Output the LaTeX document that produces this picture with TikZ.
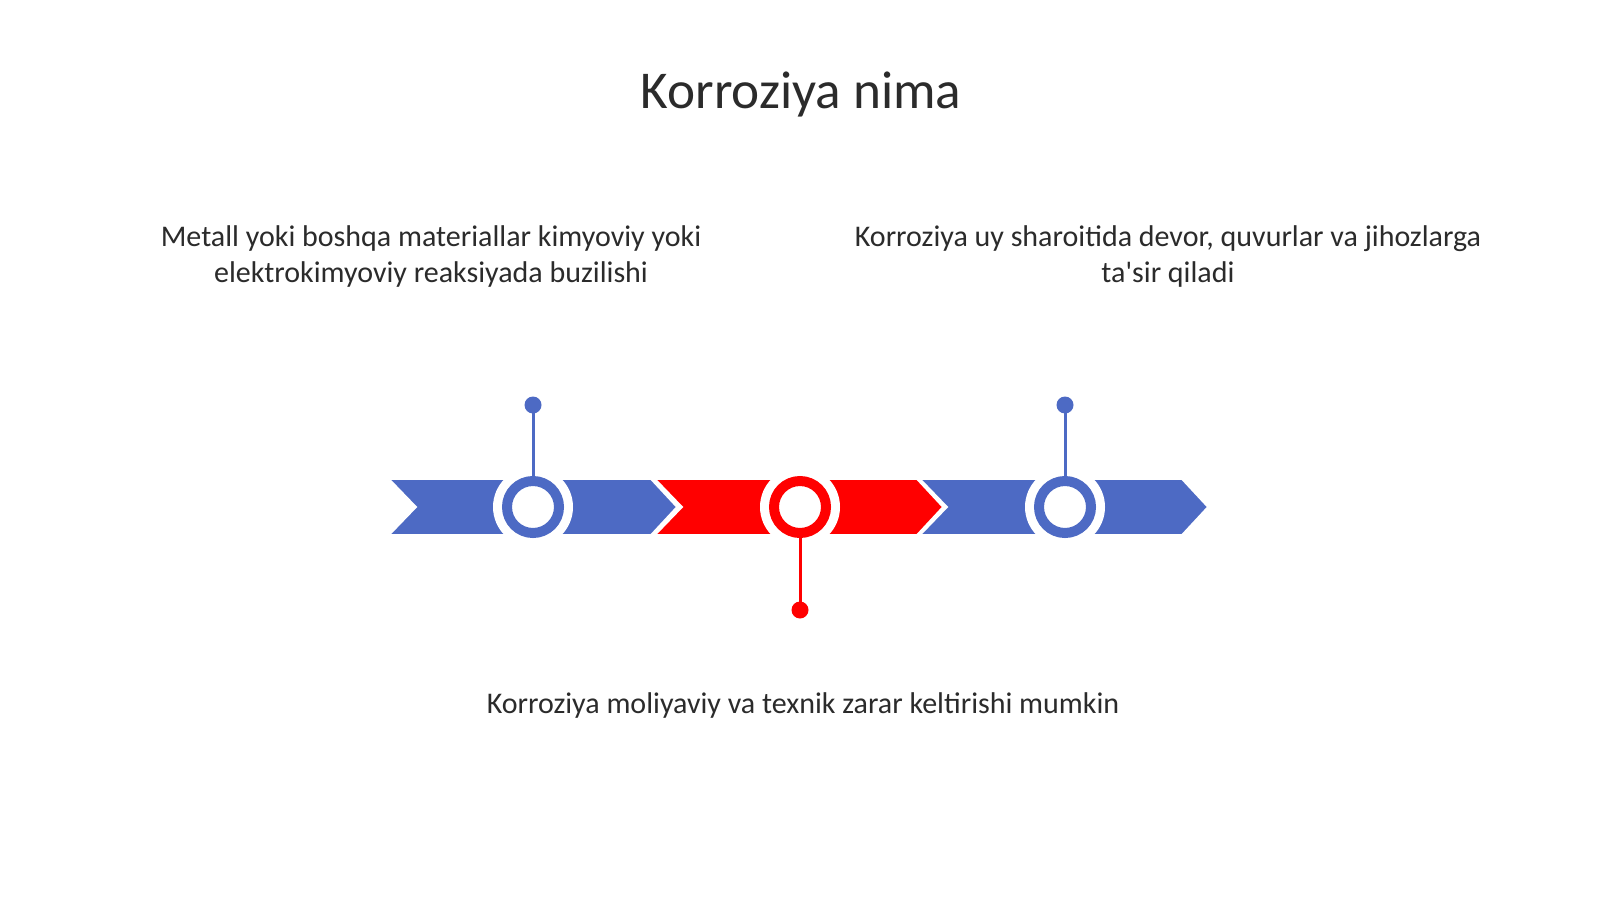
\documentclass[tikz,border=0pt]{standalone}
\usepackage{fontspec}
\setmainfont{Carlito}
\definecolor{tlblue}{HTML}{4D6AC4}
\definecolor{tlred}{HTML}{FF0000}
\definecolor{txt}{HTML}{2B2B2B}
\tikzset{
  chev/.style={line width=0.9pt, draw=white, line join=miter},
  halo/.style={circle, fill=white, minimum size=40pt, inner sep=0pt},
  ring/.style={circle, draw=#1, line width=5pt, fill=white, minimum size=26pt, inner sep=0pt},
  dotn/.style={circle, fill=#1, minimum size=8.5pt, inner sep=0pt},
  stem/.style={draw=#1, line width=1.5pt},
  body/.style={text=txt, font=\fontsize{15}{18}\selectfont, align=center, inner sep=0pt},
}
\begin{document}
\begin{tikzpicture}[x=0.5pt, y=-0.5pt]
\fill[white] (0,0) rectangle (1600,899);
\useasboundingbox (0,0) rectangle (1600,899);
% title
\node[text=txt, font=\fontsize{26.6}{32}\selectfont, anchor=base] (title) at (801,109) {Korroziya nima};
% chevrons
\foreach \x/\c in {389/tlblue, 655/tlred, 920/tlblue}{
  \filldraw[chev, fill=\c] (\x,479) -- (\x+262,479) -- (\x+288,507) -- (\x+262,535) -- (\x,535) -- (\x+27,507) -- cycle;
}
% circles
\node[halo] (h1) at (533,507) {};
\node[halo] (h2) at (800,507) {};
\node[halo] (h3) at (1065,507) {};
\node[ring=tlblue] (c1) at (533,507) {};
\node[ring=tlred] (c2) at (800,507) {};
\node[ring=tlblue] (c3) at (1065,507) {};
% dots and stems
\node[dotn=tlblue] (d1) at (533,405) {};
\node[dotn=tlred] (d2) at (800,610) {};
\node[dotn=tlblue] (d3) at (1065,405) {};
\draw[stem=tlblue] (d1.center) -- (c1.north);
\draw[stem=tlred] (d2.center) -- (c2.south);
\draw[stem=tlblue] (d3.center) -- (c3.north);
% texts
\node[body, anchor=north] (t1) at (431,225) {Metall yoki boshqa materiallar kimyoviy yoki\\elektrokimyoviy reaksiyada buzilishi};
\node[body, anchor=north] (t2) at (1168,225) {Korroziya uy sharoitida devor, quvurlar va jihozlarga\\ta\textquotesingle sir qiladi};
\node[body, anchor=base] (t3) at (803,713) {Korroziya moliyaviy va texnik zarar keltirishi mumkin};
\end{tikzpicture}
\end{document}
